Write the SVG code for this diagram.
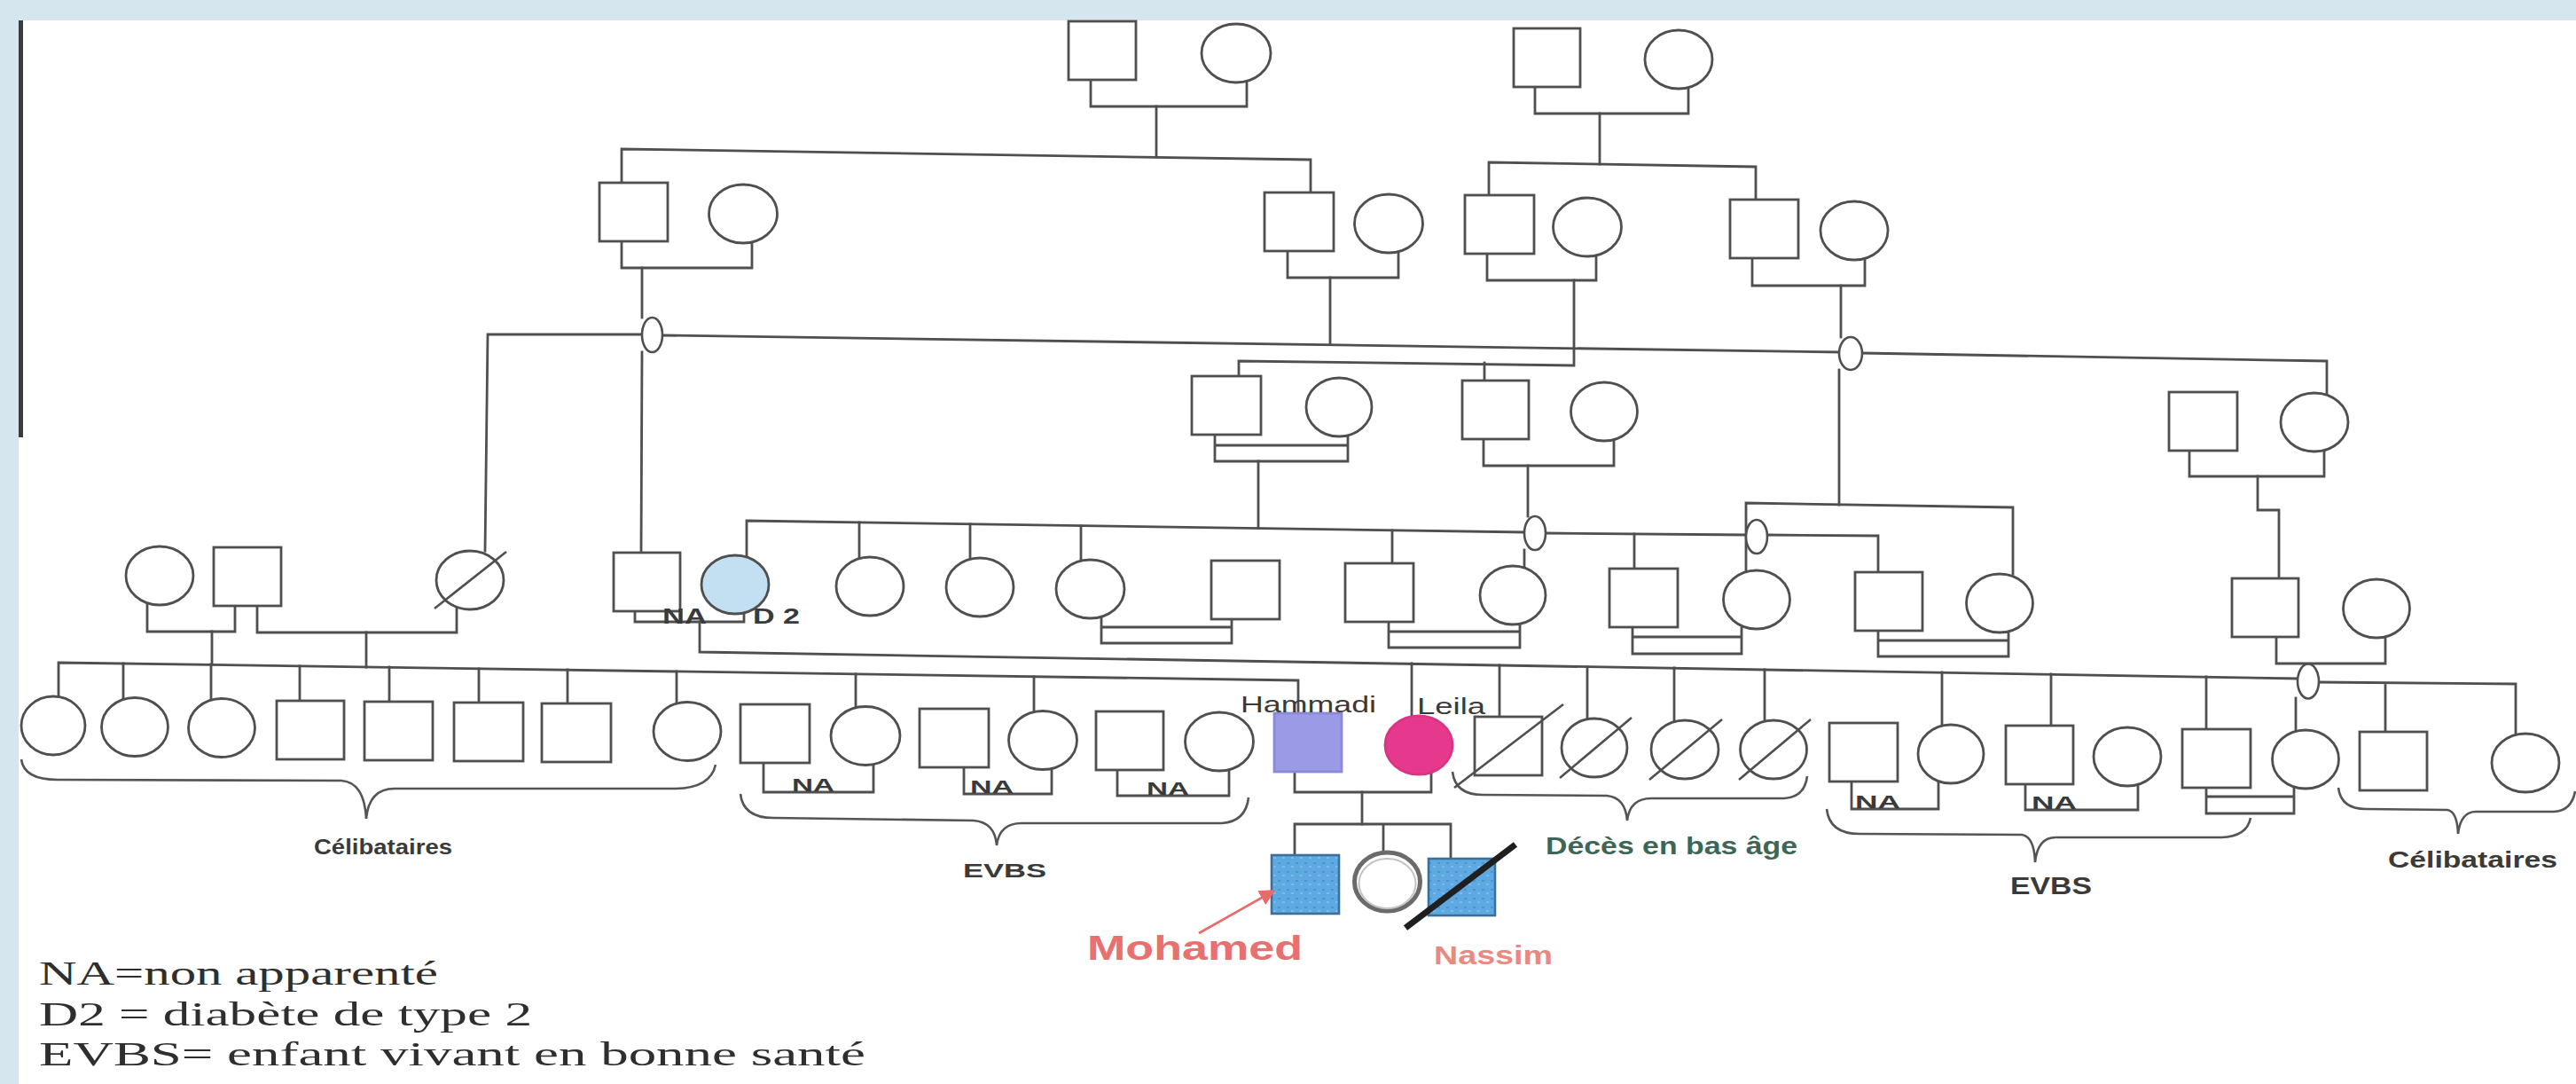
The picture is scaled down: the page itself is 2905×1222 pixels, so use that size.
<svg xmlns="http://www.w3.org/2000/svg" width="2905" height="1222" viewBox="0 0 2905 1222">
<style>
.ln{fill:none;stroke:#4f4f4f;stroke-width:2.8;stroke-linecap:square}
.nd{fill:#fff;stroke:#4f4f4f;stroke-width:2.8}
.ov{fill:#fff;stroke:#4f4f4f;stroke-width:2.6}
.sl{stroke:#4f4f4f;stroke-width:2.6}
.br{fill:none;stroke:#555;stroke-width:2.6}
.lb{font-family:'Liberation Sans',Arial,sans-serif;font-weight:bold;fill:#3a3a3a}
.nm{font-family:'Liberation Sans',Arial,sans-serif;fill:#3a3a3a}
.lg{font-family:'Liberation Serif','Times New Roman',serif;fill:#2e2e2e}
</style>
<defs>
<pattern id="tex" width="10" height="10" patternUnits="userSpaceOnUse">
<rect width="10" height="10" fill="#5ea9e2"/>
<rect x="1" y="2" width="3" height="2" fill="#4a93cf"/>
<rect x="6" y="6" width="3" height="2" fill="#7bbbeb"/>
</pattern>
<marker id="arr" viewBox="0 0 10 10" refX="9" refY="5" markerWidth="7" markerHeight="7" orient="auto">
<path d="M0,0 L10,5 L0,10 z" fill="#e86b6b"/>
</marker>
</defs>
<rect width="2905" height="1222" fill="#fff"/>
<rect x="0" y="0" width="2905" height="23" fill="#d6e6ee"/>
<rect x="0" y="0" width="21" height="1222" fill="#d6e6ee"/>
<rect x="21" y="23" width="5" height="470" fill="#3c3c3c"/>

<g id="connectors">
<path class="ln" d="M701,206 V168 L1478,180 V217"/>
<path class="ln" d="M1304,120 V177"/>
<path class="ln" d="M1230,90 V120 H1406 V92"/>
<path class="ln" d="M1731,98 V128 H1904 V100"/>
<path class="ln" d="M1804,128 V185"/>
<path class="ln" d="M1679,220 V183 L1980,188 V225"/>
<path class="ln" d="M701,272 V302 H848 V274"/>
<path class="ln" d="M724,302 V358"/>
<path class="ln" d="M547,621 L550,377 H724"/>
<path class="ln" d="M724,397 L723,623"/>
<path class="ln" d="M1452,283 V313 H1577 V285"/>
<path class="ln" d="M1500,313 V388"/>
<path class="ln" d="M747,378 L2074,397"/>
<path class="ln" d="M1677,286 V316 H1800 V289"/>
<path class="ln" d="M1775,316 V412 L1397,407 V424"/>
<path class="ln" d="M1674,409 V429"/>
<path class="ln" d="M1976,291 V322 H2103 V293"/>
<path class="ln" d="M2076,322 V380"/>
<path class="ln" d="M2074,417 V569"/>
<path class="ln" d="M1969,643 V567 L2270,572 V647"/>
<path class="ln" d="M2100,398 L2624,407 V444"/>
<path class="ln" d="M1370,490 V520 M1520,492 V520 M1370,502 H1520 M1370,520 H1520"/>
<path class="ln" d="M1419,520 V595"/>
<path class="ln" d="M842,626 V587 L1719,600"/>
<path class="ln" d="M969,589 V628 M1094,591 V629 M1219,593 V631 M1570,598 V635"/>
<path class="ln" d="M1673,495 V525 H1820 V497"/>
<path class="ln" d="M1723,525 V582"/>
<path class="ln" d="M1719,620 V638"/>
<path class="ln" d="M1743,601 L1969,603"/>
<path class="ln" d="M1843,602 V641"/>
<path class="ln" d="M1993,603 L2118,604 V645"/>
<path class="ln" d="M2469,508 V537 H2621 V509"/>
<path class="ln" d="M2546,537 V575 H2570 V652"/>
<path class="ln" d="M2567,718 V748 H2690 V719"/>
<path class="ln" d="M2589,787 V823"/>
<path class="ln" d="M2615,769 L2837,771 V827 M2690,770 V825"/>
<path class="ln" d="M716,689 V701 H839 V691"/>
<path class="ln" d="M789,701 V735 L2591,765"/>
<path class="ln" d="M1592,748 V807 M1691,750 V808 M1790,752 V810 M1888,753 V812 M1990,755 V812 M2190,758 V817 M2313,760 V818 M2488,763 V822"/>
<path class="ln" d="M166,681 V712 H265 V683"/>
<path class="ln" d="M290,683 V713 H515 V686"/>
<path class="ln" d="M239,712 V749 M413,713 V752"/>
<path class="ln" d="M1242,696 V725 M1389,698 V725 M1242,707 H1389 M1242,725 H1389"/>
<path class="ln" d="M1566,701 V730 M1714,703 V730 M1566,712 H1714 M1566,730 H1714"/>
<path class="ln" d="M1841,707 V737 M1964,708 V737 M1841,718 H1964 M1841,737 H1964"/>
<path class="ln" d="M2118,711 V740 M2265,712 V740 M2118,722 H2265 M2118,740 H2265"/>
<path class="ln" d="M66,785 V747 L1464,767 V804"/>
<path class="ln" d="M139,748 V787 M238,749 V788 M338,751 V790 M439,752 V791 M540,754 V792 M640,755 V793 M763,757 V792 M965,760 V797 M1166,763 V802"/>
<path class="ln" d="M861,860 V893 H985 V861"/>
<path class="ln" d="M1087,865 V895 H1186 V866"/>
<path class="ln" d="M1260,868 V897 H1386 V868"/>
<path class="ln" d="M2088,881 V912 H2186 V882"/>
<path class="ln" d="M2284,884 V913 H2411 V885"/>
<path class="ln" d="M2488,888 V917 M2587,888 V917 M2488,898 H2587 M2488,917 H2587"/>
<path class="ln" d="M1460,870 V893 H1614 V872"/>
<path class="ln" d="M1536,893 V929"/>
<path class="ln" d="M1460,964 V929 H1636 V968 M1560,929 V961"/>
<ellipse class="ov" cx="735.5" cy="377.5" rx="11.5" ry="19.5"/>
<ellipse class="ov" cx="2087" cy="398.5" rx="13" ry="18.5"/>
<ellipse class="ov" cx="1731" cy="601" rx="12" ry="19"/>
<ellipse class="ov" cx="1981" cy="605" rx="12" ry="19"/>
<ellipse class="ov" cx="2603" cy="768" rx="12" ry="19.5"/>
</g>

<g id="brackets">
<path class="br" d="M24,856 Q27,879 65,879 L385,880 Q411,882 413,923 Q416,889 445,889 L760,889 Q801,889 807,862"/>
<path class="br" d="M835,895 Q838,922 872,922 L1098,925 Q1122,927 1124,953 Q1127,928 1152,928 L1378,928 Q1405,926 1408,899"/>
<path class="br" d="M1638,870 Q1641,896 1672,896 L1812,897 Q1833,899 1835,925 Q1838,900 1862,900 L2012,900 Q2035,899 2038,875"/>
<path class="br" d="M2060,912 Q2063,940 2097,940 L2280,941 Q2294,943 2295,972 Q2298,944 2318,944 L2505,944 Q2534,943 2538,922"/>
<path class="br" d="M2637,888 Q2640,912 2668,912 L2760,913 Q2771,915 2772,940 Q2775,915 2792,915 L2880,915 Q2900,914 2904,892"/>
</g>

<g id="gen1">
<rect id="g1m1" class="nd" x="1205" y="24" width="76" height="66"/>
<ellipse id="g1f1" class="nd" cx="1394" cy="60" rx="39" ry="33"/>
<rect id="g1m2" class="nd" x="1707" y="32" width="75" height="66"/>
<ellipse id="g1f2" class="nd" cx="1893" cy="67" rx="38" ry="33"/>
</g>

<g id="gen2">
<rect id="g2A" class="nd" x="676" y="206" width="77" height="66"/>
<ellipse id="g2B" class="nd" cx="838" cy="241" rx="38.5" ry="33"/>
<rect id="g2E" class="nd" x="1426" y="217" width="78" height="66"/>
<ellipse id="g2F" class="nd" cx="1566" cy="252" rx="38.5" ry="33"/>
<rect id="g2I" class="nd" x="1652" y="220" width="78" height="66"/>
<ellipse id="g2J" class="nd" cx="1790" cy="256" rx="38.5" ry="33"/>
<rect id="g2K" class="nd" x="1951" y="225" width="77" height="66"/>
<ellipse id="g2L" class="nd" cx="2091" cy="260" rx="38" ry="33"/>
</g>

<g id="gen3a">
<rect id="g3T" class="nd" x="1344" y="424" width="78" height="66"/>
<ellipse id="g3U" class="nd" cx="1510" cy="459" rx="37" ry="33"/>
<rect id="g3V" class="nd" x="1649" y="429" width="75" height="66"/>
<ellipse id="g3W" class="nd" cx="1809" cy="464" rx="37.5" ry="33"/>
<rect id="g3N" class="nd" x="2446" y="442" width="77" height="66"/>
<ellipse id="g3M" class="nd" cx="2610" cy="476" rx="38" ry="33"/>
<rect id="g3O" class="nd" x="2517" y="652" width="75" height="66"/>
<ellipse id="g3P" class="nd" cx="2680" cy="686" rx="37.5" ry="33"/>
</g>

<g id="gen3b">
<ellipse id="z1" class="nd" cx="180" cy="649" rx="38" ry="33"/>
<rect id="z2" class="nd" x="241" y="617" width="76" height="66"/>
<g id="z3"><ellipse class="nd" cx="530" cy="654" rx="38" ry="33"/><line class="sl" x1="490" y1="686" x2="571" y2="622"/></g>
<rect id="naSq" class="nd" x="692" y="623" width="75" height="66"/>
<ellipse id="d2" class="nd" cx="829" cy="659" rx="38" ry="33" style="fill:#c3e0f2"/>
<ellipse id="c981" class="nd" cx="981" cy="661" rx="38" ry="33"/>
<ellipse id="c1105" class="nd" cx="1105" cy="662" rx="38" ry="33"/>
<ellipse id="c1229" class="nd" cx="1229.5" cy="664" rx="38.5" ry="33"/>
<rect id="s1366" class="nd" x="1366" y="632" width="77" height="66"/>
<rect id="s1517" class="nd" x="1517" y="635" width="77" height="66"/>
<ellipse id="cX" class="nd" cx="1706" cy="671" rx="37" ry="33"/>
<rect id="sY" class="nd" x="1815" y="641" width="77" height="66"/>
<ellipse id="cQ" class="nd" cx="1981" cy="676" rx="37.5" ry="33"/>
<rect id="sR" class="nd" x="2092" y="645" width="76" height="66"/>
<ellipse id="cS" class="nd" cx="2255" cy="680" rx="37.5" ry="33"/>
</g>

<g id="gen4">
<ellipse class="nd" cx="60" cy="818" rx="36" ry="33"/>
<ellipse class="nd" cx="152" cy="819.5" rx="37.5" ry="33"/>
<ellipse class="nd" cx="250" cy="820.5" rx="37.5" ry="33"/>
<rect class="nd" x="312" y="790" width="76" height="66"/>
<rect class="nd" x="411" y="791" width="77" height="66"/>
<rect class="nd" x="512" y="792" width="78" height="66"/>
<rect class="nd" x="611" y="793" width="78" height="66"/>
<ellipse class="nd" cx="775" cy="824.5" rx="38" ry="33"/>
<rect class="nd" x="835" y="794" width="78" height="66"/>
<ellipse class="nd" cx="976" cy="829.5" rx="39" ry="33"/>
<rect class="nd" x="1037" y="799" width="78" height="66"/>
<ellipse class="nd" cx="1176" cy="834.5" rx="38.5" ry="33"/>
<rect class="nd" x="1236" y="802" width="76" height="66"/>
<ellipse class="nd" cx="1375" cy="836" rx="38.5" ry="33"/>
<rect id="hammadi" class="nd" x="1437" y="804" width="76" height="66" style="fill:#9a9ae6;stroke:#8a8ad8"/>
<ellipse id="leila" class="nd" cx="1600" cy="840" rx="38" ry="33" style="fill:#e6398d;stroke:#d83585"/>
<g id="dec1"><rect class="nd" x="1663" y="808" width="76" height="66"/><line class="sl" x1="1640" y1="888" x2="1763" y2="794"/></g>
<g id="dec2"><ellipse class="nd" cx="1798" cy="843" rx="37" ry="33"/><line class="sl" x1="1759" y1="877" x2="1840" y2="809"/></g>
<g id="dec3"><ellipse class="nd" cx="1900" cy="845" rx="38" ry="33"/><line class="sl" x1="1860" y1="879" x2="1942" y2="811"/></g>
<g id="dec4"><ellipse class="nd" cx="2000" cy="845" rx="37.5" ry="33"/><line class="sl" x1="1961" y1="879" x2="2042" y2="811"/></g>
<rect class="nd" x="2063" y="815" width="77" height="66"/>
<ellipse class="nd" cx="2200" cy="850" rx="37" ry="33"/>
<rect class="nd" x="2262" y="818" width="76" height="66"/>
<ellipse class="nd" cx="2399" cy="853" rx="38" ry="33"/>
<rect class="nd" x="2461" y="822" width="77" height="66"/>
<ellipse class="nd" cx="2600" cy="856" rx="37.5" ry="33"/>
<rect class="nd" x="2661" y="825" width="76" height="66"/>
<ellipse class="nd" cx="2848" cy="860" rx="38" ry="33"/>
</g>

<g id="gen5">
<rect id="mohamed" x="1434" y="964" width="76" height="66" fill="url(#tex)" stroke="#3d6f98" stroke-width="2.6"/>
<g id="middle"><ellipse cx="1564.5" cy="994" rx="37" ry="33" fill="#fff" stroke="#6b6b6b" stroke-width="5"/><ellipse cx="1564.5" cy="996" rx="32" ry="28" fill="none" stroke="#c4c4c4" stroke-width="2"/></g>
<g id="nassim"><rect x="1611" y="968" width="75" height="64" fill="url(#tex)" stroke="#3d6f98" stroke-width="2.6"/><line x1="1585" y1="1046" x2="1709" y2="952" stroke="#1f1f1f" stroke-width="7"/></g>
<line x1="1352" y1="1052" x2="1437" y2="1004" stroke="#e86b6b" stroke-width="2.6" marker-end="url(#arr)"/>
</g>

<g id="labels">
<text class="lb" x="747" y="703" font-size="23" textLength="50" lengthAdjust="spacingAndGlyphs">NA</text>
<text class="lb" x="849" y="703" font-size="23" textLength="53" lengthAdjust="spacingAndGlyphs">D 2</text>
<text class="lb" x="893" y="892" font-size="20" textLength="48" lengthAdjust="spacingAndGlyphs">NA</text>
<text class="lb" x="1094" y="894" font-size="20" textLength="49" lengthAdjust="spacingAndGlyphs">NA</text>
<text class="lb" x="1293" y="896" font-size="20" textLength="48" lengthAdjust="spacingAndGlyphs">NA</text>
<text class="lb" x="2092" y="911" font-size="21" textLength="51" lengthAdjust="spacingAndGlyphs">NA</text>
<text class="lb" x="2291" y="912" font-size="21" textLength="51" lengthAdjust="spacingAndGlyphs">NA</text>
<text class="lb" x="354" y="963" font-size="23" textLength="156" lengthAdjust="spacingAndGlyphs">Célibataires</text>
<text class="lb" x="1086" y="989" font-size="22" textLength="94" lengthAdjust="spacingAndGlyphs">EVBS</text>
<text class="lb" x="1743" y="963" font-size="27" textLength="284" lengthAdjust="spacingAndGlyphs" style="fill:#3e6656">Décès en bas âge</text>
<text class="lb" x="2267" y="1008" font-size="27" textLength="92" lengthAdjust="spacingAndGlyphs">EVBS</text>
<text class="lb" x="2693" y="978" font-size="25" textLength="191" lengthAdjust="spacingAndGlyphs">Célibataires</text>
<text class="nm" x="1399" y="803" font-size="25" textLength="153" lengthAdjust="spacingAndGlyphs">Hammadi</text>
<text class="nm" x="1598" y="805" font-size="25" textLength="77" lengthAdjust="spacingAndGlyphs">Leila</text>
<text class="lb" x="1226" y="1082" font-size="39" textLength="243" lengthAdjust="spacingAndGlyphs" style="fill:#e8706e">Mohamed</text>
<text class="lb" x="1617" y="1087" font-size="30" textLength="134" lengthAdjust="spacingAndGlyphs" style="fill:#e88a80">Nassim</text>
</g>

<g id="legend">
<text class="lg" x="44" y="1110" font-size="38" textLength="450" lengthAdjust="spacingAndGlyphs">NA=non apparenté</text>
<text class="lg" x="44" y="1156" font-size="38" textLength="556" lengthAdjust="spacingAndGlyphs">D2 = diabète de type 2</text>
<text class="lg" x="44" y="1201" font-size="38" textLength="932" lengthAdjust="spacingAndGlyphs">EVBS= enfant vivant en bonne santé</text>
</g>
</svg>
